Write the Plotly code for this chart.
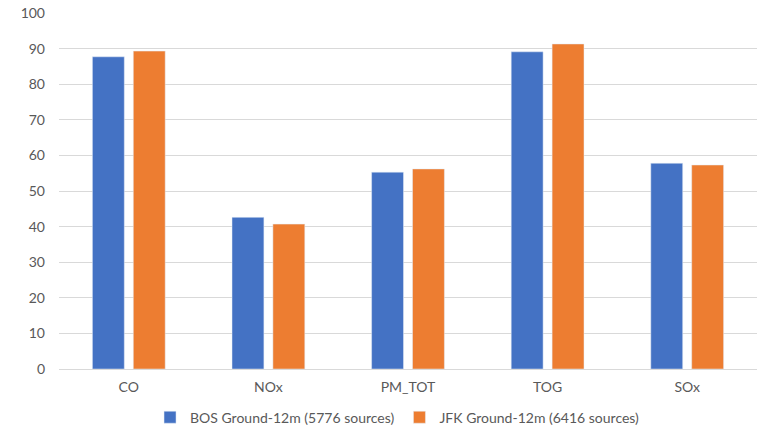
import plotly.graph_objects as go

categories = ["CO", "NOx", "PM_TOT", "TOG", "SOx"]
bos_values = [87.7, 42.6, 55.3, 89.1, 57.8]
jfk_values = [89.3, 40.7, 56.2, 91.3, 57.3]
series_names = ["BOS Ground-12m (5776 sources)", "JFK Ground-12m (6416 sources)"]
y_ticks = list(range(0, 101, 10))

fig = go.Figure()
fig.add_trace(go.Bar(x=categories, y=bos_values, name=series_names[0], marker_color="#4472C4"))
fig.add_trace(go.Bar(x=categories, y=jfk_values, name=series_names[1], marker_color="#ED7D31"))

font_family = "Lato, 'Open Sans', sans-serif"
fig.update_layout(
    width=757, height=427,
    margin=dict(l=59, r=0, t=13, b=58, autoexpand=False),
    paper_bgcolor="white", plot_bgcolor="white",
    barmode="group", bargap=0.414, bargroupgap=0.22,
    font=dict(family=font_family, size=14, color="#595959"),
    legend=dict(orientation="h", x=0.485, xanchor="center",
                yref="container", y=0.022, yanchor="middle",
                font=dict(size=14, color="#595959"), itemwidth=30,
                traceorder="normal"),
    showlegend=True,
)
fig.update_yaxes(range=[0, 100], tickvals=y_ticks, showgrid=True, gridcolor="#D9D9D9",
                 gridwidth=1, zeroline=False, ticks="", ticklabelstandoff=13,
                 tickfont=dict(size=14, color="#595959"))
fig.update_xaxes(showline=True, linecolor="#D9D9D9", linewidth=1, ticks="",
                 ticklabelstandoff=5, tickfont=dict(size=14, color="#595959"))

fig.write_html(
    "out.html",
    config={"displayModeBar": False},
    post_script="document.body.style.margin='0';document.body.style.overflow='hidden';"
                "document.documentElement.style.overflow='hidden';",
)
